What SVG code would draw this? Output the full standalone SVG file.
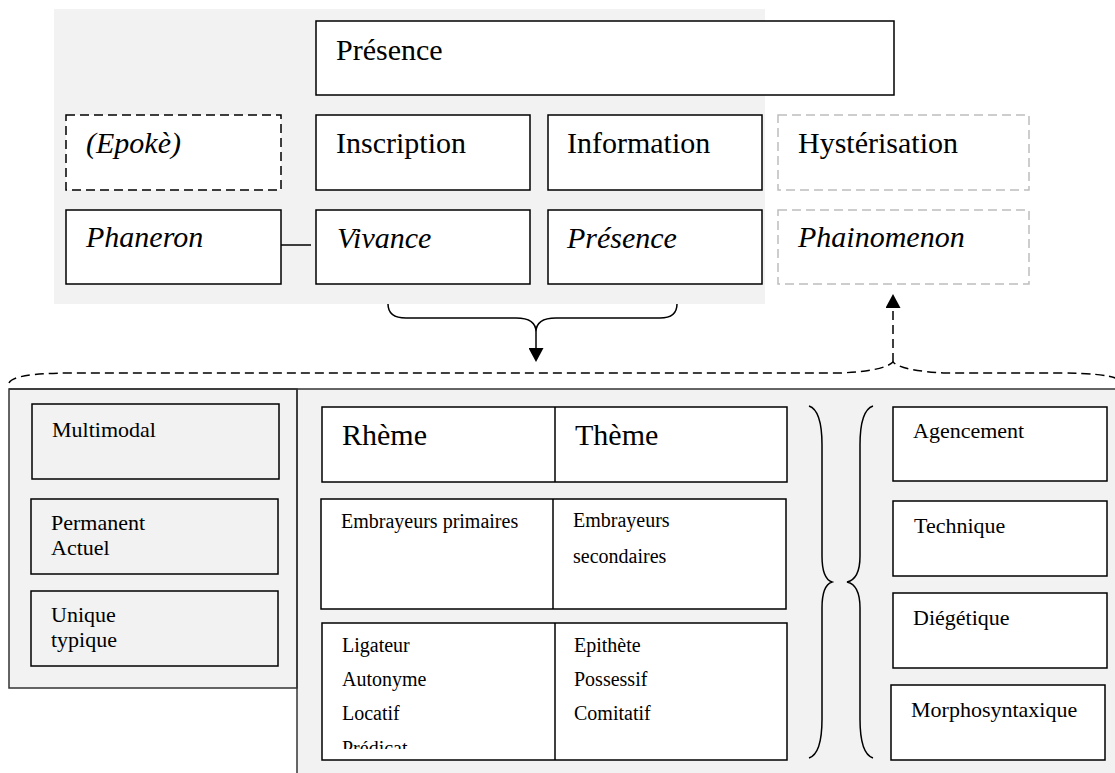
<svg xmlns="http://www.w3.org/2000/svg" width="1115" height="773" viewBox="0 0 1115 773">
<defs>
<style>
text{font-family:"Liberation Serif","Times New Roman",serif;fill:#000}
.t30{font-size:30px}
.t22{font-size:22px}
.t20{font-size:20px}
.it{font-style:italic}
.box{fill:#fff;stroke:#000;stroke-width:1.5}
.gbox{fill:#f2f2f2;stroke:#000;stroke-width:1.5}
.dbox{fill:#fff;stroke:#000;stroke-width:1.5;stroke-dasharray:9 5}
.lbox{fill:#fff;stroke:#bdbdbd;stroke-width:1.5;stroke-dasharray:9 5}
.panel{fill:#f2f2f2;stroke:none}
.edge{stroke:#333;stroke-width:1.5;fill:none}
.ln{stroke:#000;stroke-width:1.5;fill:none}
.dash{stroke:#000;stroke-width:1.5;fill:none;stroke-dasharray:9 5}
</style>
<marker id="ah" viewBox="0 0 14 15" refX="0" refY="7.5" markerWidth="14" markerHeight="15" orient="auto" markerUnits="userSpaceOnUse">
<path d="M0,0 L14,7.5 L0,15 z" fill="#000"/>
</marker>
<clipPath id="clipR3"><rect x="322" y="623" width="233" height="126"/></clipPath>
</defs>

<g id="panels">
<rect class="panel" x="54" y="9" width="711" height="295"/>
<rect class="panel" x="297" y="389" width="820" height="386"/>
<rect class="gbox" x="9" y="389" width="288" height="299" style="stroke:#333"/>
<line class="edge" x1="9" y1="389" x2="1115" y2="389"/>
<line class="edge" x1="297" y1="389" x2="297" y2="773"/>
</g>

<g id="n-presence-top"><rect class="box" x="316" y="21" width="578" height="74"/><text class="t30" x="336" y="60">Présence</text></g>
<g id="n-epoke"><rect class="dbox" x="66" y="115" width="215" height="75"/><text class="t30 it" x="86" y="153">(Epokè)</text></g>
<g id="n-inscription"><rect class="box" x="316" y="115" width="214" height="75"/><text class="t30" x="336" y="153">Inscription</text></g>
<g id="n-information"><rect class="box" x="548" y="115" width="214" height="75"/><text class="t30" x="567" y="153">Information</text></g>
<g id="n-hysterisation"><rect class="lbox" x="778" y="115" width="251" height="75"/><text class="t30" x="798" y="153">Hystérisation</text></g>
<g id="n-phaneron"><rect class="box" x="66" y="210" width="215" height="74"/><text class="t30 it" x="86" y="247">Phaneron</text></g>
<g id="n-vivance"><rect class="box" x="316" y="210" width="214" height="74"/><text class="t30 it" x="337" y="248">Vivance</text></g>
<g id="n-presence-it"><rect class="box" x="548" y="210" width="214" height="74"/><text class="t30 it" x="567" y="248">Présence</text></g>
<g id="n-phainomenon"><rect class="lbox" x="778" y="210" width="251" height="74"/><text class="t30 it" x="798" y="247">Phainomenon</text></g>

<g id="n-multimodal"><rect class="gbox" x="32" y="404" width="247" height="75"/><text class="t22" x="52" y="437">Multimodal</text></g>
<g id="n-permanent"><rect class="gbox" x="31" y="499" width="247" height="75"/><text class="t22" x="51" y="530">Permanent</text><text class="t22" x="51" y="555">Actuel</text></g>
<g id="n-unique"><rect class="gbox" x="31" y="591" width="247" height="75"/><text class="t22" x="51" y="622">Unique</text><text class="t22" x="51" y="647">typique</text></g>

<g id="n-row1">
<rect class="box" x="322" y="407" width="465" height="75"/>
<line class="ln" x1="555" y1="407" x2="555" y2="482"/>
<text class="t30" x="342" y="445">Rhème</text>
<text class="t30" x="575" y="445">Thème</text>
</g>
<g id="n-row2">
<rect class="box" x="321" y="499" width="465" height="110"/>
<line class="ln" x1="553" y1="499" x2="553" y2="609"/>
<text class="t20" x="341" y="528">Embrayeurs primaires</text>
<text class="t20" x="573" y="527">Embrayeurs</text>
<text class="t20" x="573" y="563">secondaires</text>
</g>
<g id="n-row3">
<rect class="box" x="322" y="623" width="465" height="137"/>
<line class="ln" x1="555" y1="623" x2="555" y2="760"/>
<text class="t20" x="342" y="652">Ligateur</text>
<text class="t20" x="342" y="686">Autonyme</text>
<text class="t20" x="342" y="720">Locatif</text>
<text class="t20" x="342" y="755" clip-path="url(#clipR3)">Prédicat</text>
<text class="t20" x="574" y="652">Epithète</text>
<text class="t20" x="574" y="686">Possessif</text>
<text class="t20" x="574" y="720">Comitatif</text>
</g>

<g id="n-agencement"><rect class="box" x="893" y="407" width="214" height="74"/><text class="t22" x="913" y="438">Agencement</text></g>
<g id="n-technique"><rect class="box" x="893" y="501" width="214" height="75"/><text class="t22" x="914" y="533">Technique</text></g>
<g id="n-diegetique"><rect class="box" x="893" y="593" width="214" height="75"/><text class="t22" x="913" y="625">Diégétique</text></g>
<g id="n-morpho"><rect class="box" x="891" y="685" width="214" height="75"/><text class="t22" x="911" y="717">Morphosyntaxique</text></g>

<g id="connectors">
<line class="ln" x1="281" y1="245" x2="311" y2="245"/>
<path class="ln" d="M388,304 C388,313 394,318 406,318 L516,318 C529,318 536,323 536,332 C536,323 543,318 556,318 L660,318 C671,318 677,313 677,304"/>
<line class="ln" x1="536" y1="332" x2="536" y2="348" marker-end="url(#ah)"/>
<path class="dash" d="M9,383 Q14,373 70,373 L840,373 Q884,371 893,362 Q902,371 946,373 L1060,373 Q1104,373 1118,379"/>
<line class="dash" x1="893" y1="362" x2="893" y2="308" marker-end="url(#ah)"/>
<path class="ln" d="M809,406 C818,409 822,422 822,445 L822,556 C822,572 826,580 832,582 C826,584 822,592 822,608 L822,719 C822,742 818,755 809,758"/>
<path class="ln" d="M873,406 C864,409 860,422 860,445 L860,556 C860,572 856,580 847,582 C856,584 860,592 860,608 L860,719 C860,742 864,755 873,758"/>
</g>
</svg>
